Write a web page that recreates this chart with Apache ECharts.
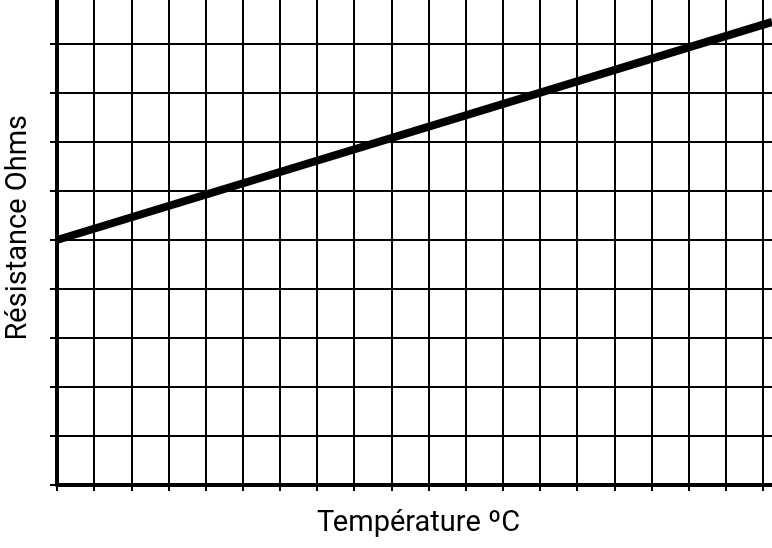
<!DOCTYPE html>
<html>
<head>
<meta charset="utf-8">
<script src="https://cdn.jsdelivr.net/npm/echarts@6/dist/echarts.min.js"></script>
<style>
    html, body {margin: 0; padding: 0; background: #ffffff;}
    #chart {width: 772px; height: 548px;}
</style>
</head>
<body>
<div id="chart"></div>
<script>
// values (grid units)
const temperature = [0, 19.25];
const resistance = [5, 9.45];
const xTitle = 'Température ºC';
const yTitle = 'Résistance Ohms';

const labelFont = '"Liberation Sans Narrow", Roboto, sans-serif';

function drawChart() {
    const myChart = echarts.init(document.getElementById('chart'));
    const points = temperature.map(function (t, i) {
        return [t, resistance[i]];
    });
    const option = {
        backgroundColor: '#ffffff',
        animation: false,
        // plot runs past the right/top edge so the last grid lines fall off the page
        grid: {
            left: 57,
            width: 743,
            top: -29.5,
            height: 514.5,
            outerBoundsMode: 'none',
            containLabel: false
        },
        xAxis: {
            type: 'value',
            min: 0,
            max: 20,
            interval: 1,
            name: xTitle,
            nameLocation: 'middle',
            nameGap: 24,
            nameTextStyle: {
                color: '#000',
                fontFamily: labelFont,
                fontSize: 29,
                padding: [0, 20, 0, 0]
            },
            axisLine: {lineStyle: {color: '#000', width: 4}},
            axisTick: {show: true, length: 6, lineStyle: {color: '#000', width: 2}},
            axisLabel: {show: false},
            splitLine: {show: true, lineStyle: {color: '#000', width: 2}}
        },
        yAxis: {
            type: 'value',
            min: 0,
            max: 10.5,
            interval: 1,
            name: yTitle,
            nameLocation: 'middle',
            nameRotate: 90,
            nameGap: 24,
            nameTextStyle: {
                color: '#000',
                fontFamily: labelFont,
                fontSize: 29
            },
            axisLine: {show: true, lineStyle: {color: '#000', width: 4}},
            axisTick: {show: true, length: 7, lineStyle: {color: '#000', width: 2}},
            axisLabel: {show: false},
            splitLine: {show: true, lineStyle: {color: '#000', width: 2}}
        },
        series: [
            {
                type: 'line',
                data: points,
                symbol: 'none',
                z: 5,
                lineStyle: {color: '#000', width: 8, cap: 'butt'}
            }
        ]
    };
    myChart.setOption(option);
    window.onresize = myChart.resize;
}

drawChart();
</script>
</body>
</html>
